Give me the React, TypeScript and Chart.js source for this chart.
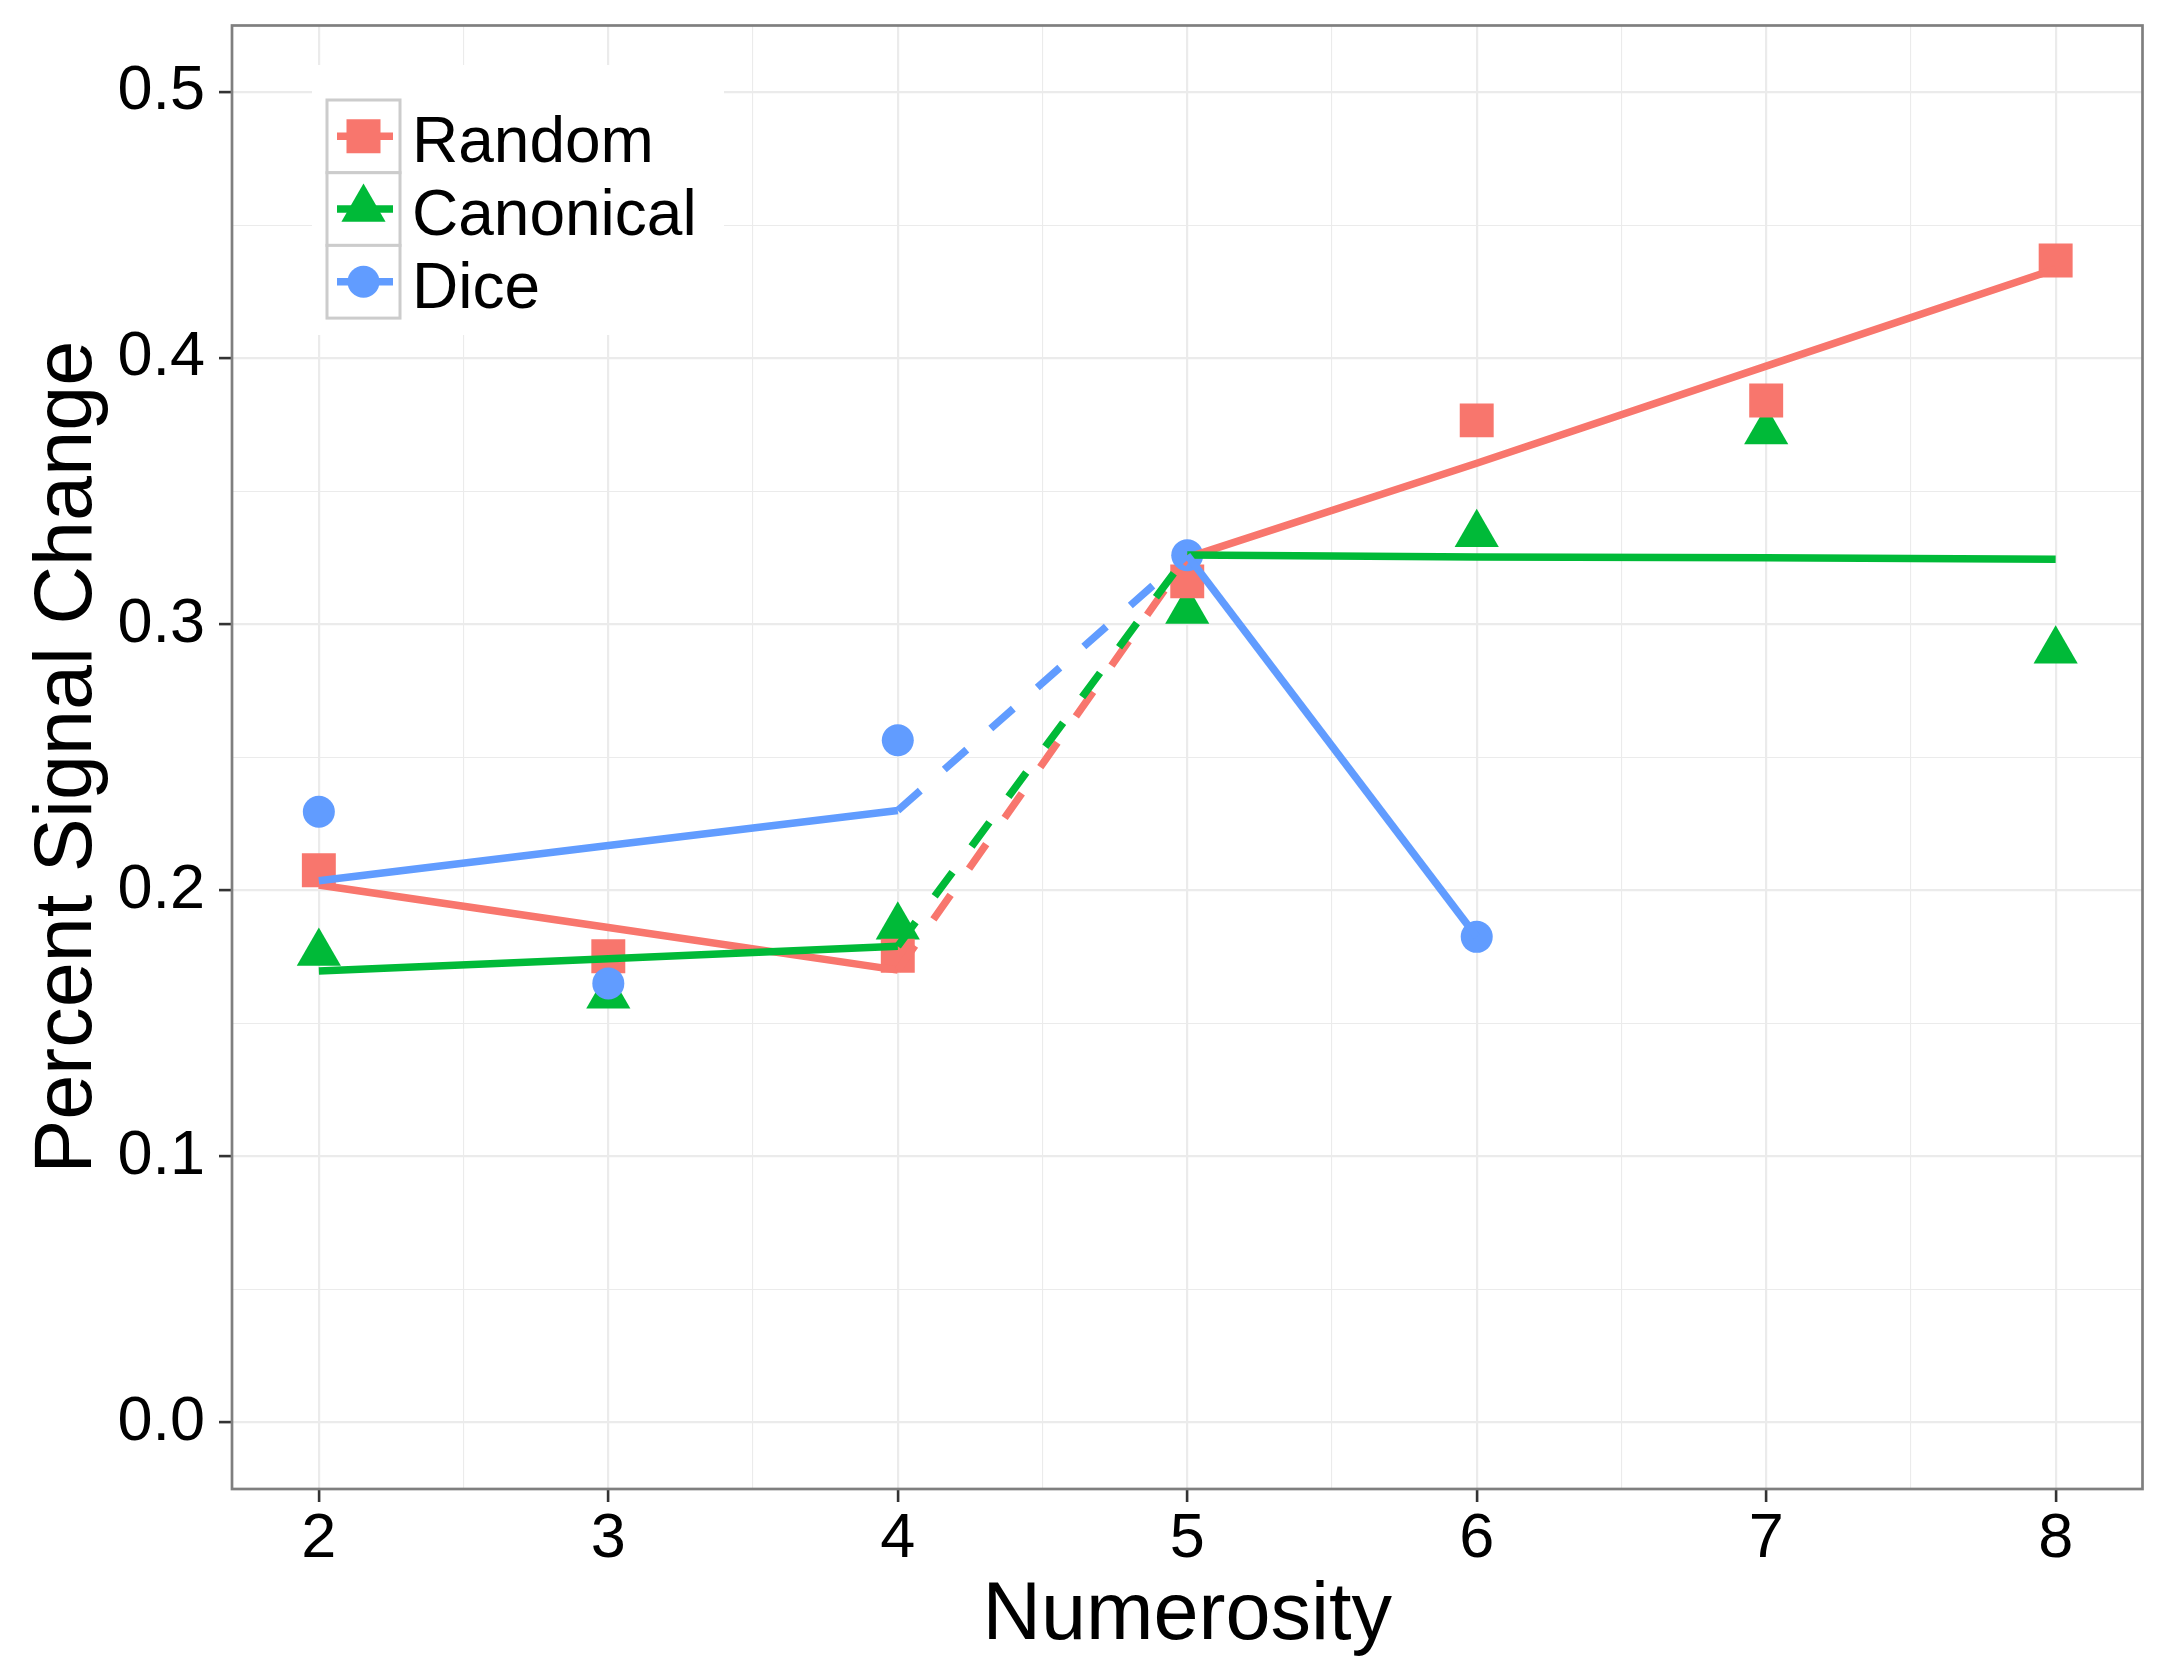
import React, { useEffect, useRef } from 'react';
import { Chart, registerables } from 'chart.js';

Chart.register(...registerables);

// ---- data ----
const numerosity = [2, 3, 4, 5, 6, 7, 8];
const diceNumerosity = [2, 3, 4, 5, 6];

const randomObserved = [0.2075, 0.1752, 0.1754, 0.3161, 0.3766, 0.3841, 0.4367];
const canonicalObserved = [0.1764, 0.1604, 0.1863, 0.305, 0.3338, 0.3724, 0.29];
const diceObserved = [0.2295, 0.165, 0.2564, 0.3259, 0.1825];

const randomFit = [0.202, 0.186, 0.17, 0.325, 0.3605, 0.397, 0.4335];
const canonicalFit = [0.1697, 0.1743, 0.179, 0.326, 0.3253, 0.325, 0.3244];
const diceFit = [0.2036, 0.2168, 0.23, 0.3259, 0.1825];

const seriesNames = ['Random', 'Canonical', 'Dice'];
const seriesColors = ['#F8766D', '#00BA38', '#619CFF'];

const xMajorTicks = [2, 3, 4, 5, 6, 7, 8];
const xMinorTicks = [2.5, 3.5, 4.5, 5.5, 6.5, 7.5];
const yMajorTicks = [0, 0.1, 0.2, 0.3, 0.4, 0.5];
const yMinorTicks = [0.05, 0.15, 0.25, 0.35, 0.45];

const xTitle = 'Numerosity';
const yTitle = 'Percent Signal Change';

// ---- styling ----
const FONT = "'Liberation Sans', Arial, Helvetica, sans-serif";
const TICK_SIZE = 63;
const TITLE_SIZE = 81;
const GRID = '#EBEBEB';
const LINE_W = 7.5;
const DASH = [30, 32];

const pts = (xs: number[], ys: number[]) => xs.map((x, i) => ({ x, y: ys[i] }));
const isMajor = (list: number[], v: number) => list.some((m) => Math.abs(m - v) < 1e-9);

const fitLine = (label: string, xs: number[], ys: number[], color: string, order: number) => ({
  label,
  data: pts(xs, ys),
  showLine: true,
  borderColor: color,
  backgroundColor: color,
  borderWidth: LINE_W,
  borderCapStyle: 'butt',
  borderJoinStyle: 'round',
  pointRadius: 0,
  pointHoverRadius: 0,
  tension: 0,
  order,
  segment: {
    borderDash: (ctx: any) => (Math.abs(ctx.p0.parsed.x - 4) < 1e-9 ? DASH : undefined),
  },
});

const pointSet = (label: string, xs: number[], ys: number[], color: string, style: string, radius: number, order: number) => ({
  label,
  data: pts(xs, ys),
  showLine: false,
  backgroundColor: color,
  borderColor: color,
  borderWidth: 0,
  pointStyle: style,
  pointRadius: radius,
  pointHoverRadius: radius,
  pointBorderWidth: 0,
  order,
});

const panelAndLegend = {
  id: 'panelAndLegend',
  afterDatasetsDraw(chart: any) {
    const { ctx, chartArea } = chart;
    ctx.save();
    // panel border
    ctx.strokeStyle = '#7F7F7F';
    ctx.lineWidth = 2.7;
    ctx.strokeRect(chartArea.left, chartArea.top, chartArea.right - chartArea.left, chartArea.bottom - chartArea.top);

    // legend
    ctx.fillStyle = '#FFFFFF';
    ctx.fillRect(312, 65, 412, 270);
    const keyLeft = 327;
    const keyW = 73;
    const keyH = 72.7;
    const top0 = 100;
    for (let i = 0; i < seriesNames.length; i++) {
      const t = top0 + i * keyH;
      const cy = t + keyH / 2;
      const cx = keyLeft + keyW / 2;
      ctx.fillStyle = '#FFFFFF';
      ctx.fillRect(keyLeft, t, keyW, keyH);
      ctx.strokeStyle = '#CCCCCC';
      ctx.lineWidth = 3;
      ctx.strokeRect(keyLeft, t, keyW, keyH);
      // line
      ctx.strokeStyle = seriesColors[i];
      ctx.lineWidth = LINE_W;
      ctx.lineCap = 'butt';
      ctx.beginPath();
      ctx.moveTo(keyLeft + 10, cy);
      ctx.lineTo(keyLeft + keyW - 7, cy);
      ctx.stroke();
      // marker
      ctx.fillStyle = seriesColors[i];
      ctx.beginPath();
      if (i === 0) {
        ctx.rect(cx - 17, cy - 17, 34, 34);
      } else if (i === 1) {
        const r = 25.5;
        ctx.moveTo(cx, cy - r);
        ctx.lineTo(cx + r * Math.sin((2 * Math.PI) / 3), cy + r / 2);
        ctx.lineTo(cx - r * Math.sin((2 * Math.PI) / 3), cy + r / 2);
        ctx.closePath();
      } else {
        ctx.arc(cx, cy, 16, 0, Math.PI * 2);
      }
      ctx.fill();
      // text
      ctx.fillStyle = '#000000';
      ctx.font = `${TICK_SIZE + 1}px ${FONT}`;
      ctx.textAlign = 'left';
      ctx.textBaseline = 'alphabetic';
      ctx.fillText(seriesNames[i], 412, cy + 26);
    }
    ctx.restore();
  },
};

export default function App() {
  const ref = useRef<HTMLCanvasElement | null>(null);

  useEffect(() => {
    if (!ref.current) return;
    const chart = new Chart(ref.current, {
      type: 'scatter',
      data: {
        datasets: [
          fitLine('Dice fit', diceNumerosity, diceFit, seriesColors[2], 1),
          fitLine('Canonical fit', numerosity, canonicalFit, seriesColors[1], 2),
          fitLine('Random fit', numerosity, randomFit, seriesColors[0], 3),
          pointSet(seriesNames[2], diceNumerosity, diceObserved, seriesColors[2], 'circle', 16, 4),
          pointSet(seriesNames[0], numerosity, randomObserved, seriesColors[0], 'rect', 24, 5),
          pointSet(seriesNames[1], numerosity, canonicalObserved, seriesColors[1], 'triangle', 25.5, 6),
        ] as any,
      },
      options: {
        animation: false,
        responsive: true,
        maintainAspectRatio: false,
        events: [],
        layout: { padding: { top: 25, right: 25, left: 0, bottom: 0 } },
        plugins: {
          legend: { display: false },
          tooltip: { enabled: false },
        },
        scales: {
          x: {
            type: 'linear',
            position: 'bottom',
            min: 1.7,
            max: 8.3,
            afterBuildTicks: (scale: any) => {
              scale.ticks = [...xMajorTicks, ...xMinorTicks].sort((a, b) => a - b).map((v) => ({ value: v }));
            },
            afterFit: (scale: any) => {
              scale.height = 189;
              scale.paddingLeft = 0;
              scale.paddingRight = 0;
            },
            ticks: {
              autoSkip: false,
              maxRotation: 0,
              minRotation: 0,
              padding: 0,
              color: '#000000',
              font: { family: FONT, size: TICK_SIZE },
              callback: (v: any) => (isMajor(xMajorTicks, Number(v)) ? String(Math.round(Number(v))) : ''),
            },
            grid: {
              color: GRID,
              lineWidth: (ctx: any) => (ctx.tick && isMajor(xMajorTicks, ctx.tick.value) ? 2.2 : 1.1),
              tickColor: (ctx: any) => (ctx.tick && isMajor(xMajorTicks, ctx.tick.value) ? '#333333' : 'rgba(0,0,0,0)'),
              tickWidth: 2.6,
              tickLength: 13,
              drawTicks: true,
            },
            border: { display: false },
            title: {
              display: true,
              text: xTitle,
              color: '#000000',
              font: { family: FONT, size: TITLE_SIZE },
              padding: { top: 0, bottom: 13 },
            },
          },
          y: {
            type: 'linear',
            position: 'left',
            min: -0.025,
            max: 0.525,
            afterBuildTicks: (scale: any) => {
              scale.ticks = [...yMajorTicks, ...yMinorTicks].sort((a, b) => a - b).map((v) => ({ value: v }));
            },
            afterFit: (scale: any) => {
              scale.width = 232;
              scale.paddingTop = 0;
              scale.paddingBottom = 0;
            },
            ticks: {
              autoSkip: false,
              padding: 14,
              color: '#000000',
              font: { family: FONT, size: TICK_SIZE },
              callback: (v: any) => (isMajor(yMajorTicks, Number(v)) ? Number(v).toFixed(1) : ''),
            },
            grid: {
              color: GRID,
              lineWidth: (ctx: any) => (ctx.tick && isMajor(yMajorTicks, ctx.tick.value) ? 2.2 : 1.1),
              tickColor: (ctx: any) => (ctx.tick && isMajor(yMajorTicks, ctx.tick.value) ? '#333333' : 'rgba(0,0,0,0)'),
              tickWidth: 2.6,
              tickLength: 13,
              drawTicks: true,
            },
            border: { display: false },
            title: {
              display: true,
              text: yTitle,
              color: '#000000',
              font: { family: FONT, size: TITLE_SIZE },
              padding: { top: 20, bottom: 0 },
            },
          },
        },
      } as any,
      plugins: [panelAndLegend],
    });
    return () => chart.destroy();
  }, []);

  return (
    <div style={{ position: 'absolute', left: 0, top: 0, width: 2168, height: 1678, background: '#FFFFFF' }}>
      <canvas ref={ref} />
    </div>
  );
}
